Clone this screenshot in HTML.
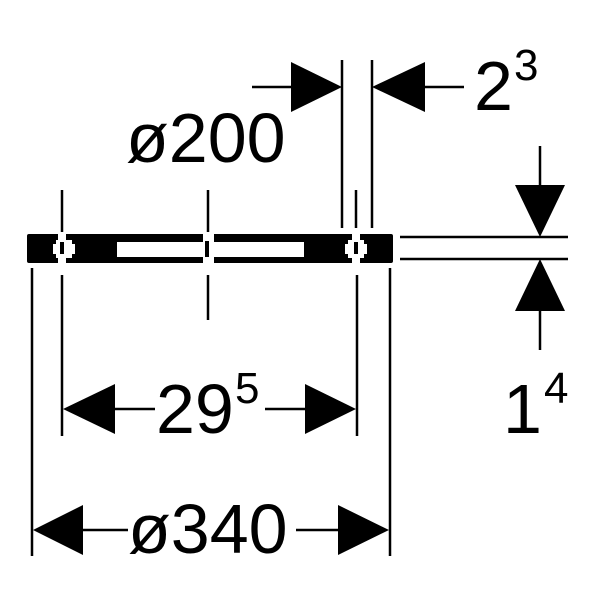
<!DOCTYPE html>
<html><head><style>body{margin:0;background:#fff}svg{display:block}</style></head>
<body>
<svg width="600" height="600" viewBox="0 0 600 600" xmlns="http://www.w3.org/2000/svg">
<g fill="#000">
<rect x="27" y="234" width="366" height="29" rx="2"/>
</g>
<g fill="#fff">
<rect x="117" y="242" width="187" height="15"/>
<rect x="203" y="234" width="11" height="29"/>
<rect x="53" y="240" width="22" height="18"/>
<rect x="58" y="234" width="8" height="29"/>
<rect x="345" y="240" width="22" height="18"/>
<rect x="352" y="234" width="8" height="29"/>
</g>
<g fill="#000">
<rect x="205" y="241" width="4" height="16"/>
<rect x="60" y="242" width="4" height="12"/>
<rect x="354" y="242" width="4" height="12"/>
<rect x="53" y="240" width="3" height="4"/>
<rect x="53" y="254" width="3" height="4"/>
<rect x="72" y="240" width="3" height="4"/>
<rect x="72" y="254" width="3" height="4"/>
<rect x="345" y="240" width="3" height="4"/>
<rect x="345" y="254" width="3" height="4"/>
<rect x="364" y="240" width="3" height="4"/>
<rect x="364" y="254" width="3" height="4"/>
</g>
<g stroke="#000" stroke-width="2.5" fill="none">
<line x1="62" y1="190" x2="62" y2="232"/>
<line x1="208" y1="190" x2="208" y2="232"/>
<line x1="356" y1="190" x2="356" y2="228"/>
<line x1="342" y1="60" x2="342" y2="228"/>
<line x1="372" y1="60" x2="372" y2="228"/>
<line x1="32" y1="268" x2="32" y2="556"/>
<line x1="62" y1="275" x2="62" y2="436"/>
<line x1="208" y1="275" x2="208" y2="320"/>
<line x1="357" y1="275" x2="357" y2="436"/>
<line x1="390" y1="268" x2="390" y2="556"/>
<line x1="400" y1="237" x2="568" y2="237"/>
<line x1="400" y1="259" x2="568" y2="259"/>
<line x1="540" y1="146" x2="540" y2="190"/>
<line x1="540" y1="305" x2="540" y2="350"/>
<line x1="252" y1="87" x2="295" y2="87"/>
<line x1="420" y1="87" x2="464" y2="87"/>
<line x1="110" y1="409" x2="155" y2="409"/>
<line x1="265" y1="409" x2="310" y2="409"/>
<line x1="80" y1="530" x2="128" y2="530"/>
<line x1="296" y1="530" x2="340" y2="530"/>
</g>
<g fill="#000">
<polygon points="342,87 291,62 291,112"/>
<polygon points="372,87 425,62 425,112"/>
<polygon points="540,237 515,185 565,185"/>
<polygon points="540,259 515,311 565,311"/>
<polygon points="63,409 115,384 115,434"/>
<polygon points="356,409 305,384 305,434"/>
<polygon points="33,530 83,505 83,555"/>
<polygon points="389,530 338,505 338,555"/>
</g>
<g font-family="Liberation Sans, Arial, sans-serif" font-size="70" fill="#000">
<text x="126" y="162">ø200</text>
<text x="474" y="110">2</text>
<text x="514" y="80" font-size="44">3</text>
<text x="156" y="433">29</text>
<text x="235" y="403" font-size="44">5</text>
<text x="128" y="553">ø340</text>
<text x="503" y="433">1</text>
<text x="544" y="403" font-size="44">4</text>
</g>
</svg>
</body></html>
